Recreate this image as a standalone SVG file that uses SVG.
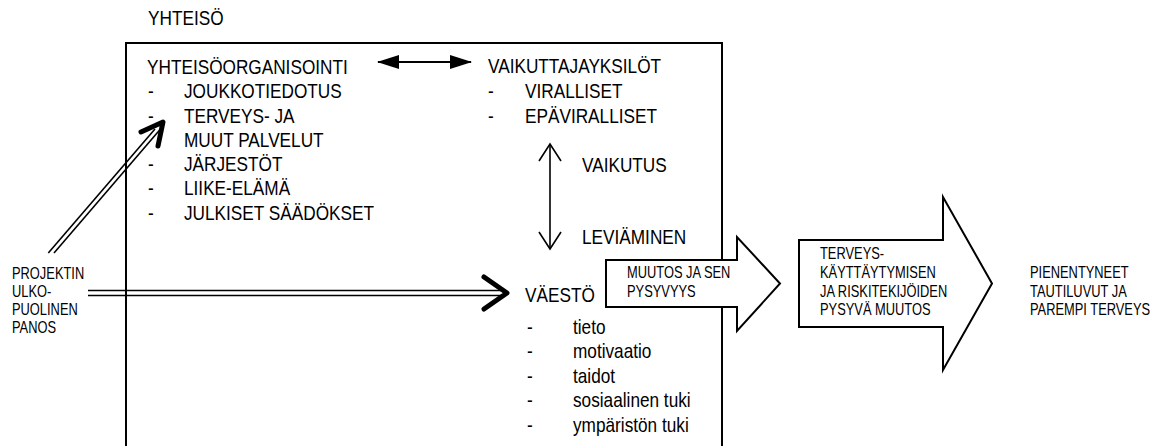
<svg xmlns="http://www.w3.org/2000/svg" width="1161" height="446" viewBox="0 0 1161 446">
<style>
  text { font-family: 'Liberation Sans', Arial, sans-serif; fill: #000; }
  .big { font-size: 21px; }
  .small { font-size: 15.7px; }
  .frame { fill: none; stroke: #000; stroke-width: 2; }
  .bigarrow { fill: #fff; stroke: #000; stroke-width: 2; stroke-linejoin: miter; }
  .thin { fill: none; stroke: #000; stroke-width: 1.6; }
  .dbl { fill: none; stroke: #000; stroke-width: 1.6; }
  .chev { fill: none; stroke: #000; stroke-width: 5; stroke-linecap: round; stroke-linejoin: round; }
</style>
<defs>
  <marker id="solidHead" viewBox="0 0 22 14" refX="21" refY="7" markerWidth="22" markerHeight="14" markerUnits="userSpaceOnUse" orient="auto-start-reverse">
    <path d="M0,0 L22,7 L0,14 Z" fill="#000"/>
  </marker>
</defs>
<rect width="1161" height="446" fill="#fff"/>

<g id="yhteiso">
  <text class="big" transform="translate(148,25) scale(0.82,1)">YHTEISÖ</text>
  <path class="frame" d="M126,446 L126,43 L722,43 L722,446"/>
</g>

<g id="yhteisoorganisointi">
  <text class="big" transform="translate(147,74) scale(0.82,1)">YHTEISÖORGANISOINTI</text>
  <text class="big" transform="translate(148,98) scale(0.82,1)">-</text><text class="big" transform="translate(184,98) scale(0.82,1)">JOUKKOTIEDOTUS</text>
  <text class="big" transform="translate(148,123) scale(0.82,1)">-</text><text class="big" transform="translate(184,123) scale(0.82,1)">TERVEYS- JA</text>
  <text class="big" transform="translate(184,147) scale(0.82,1)">MUUT PALVELUT</text>
  <text class="big" transform="translate(148,171) scale(0.82,1)">-</text><text class="big" transform="translate(184,171) scale(0.82,1)">JÄRJESTÖT</text>
  <text class="big" transform="translate(148,195) scale(0.82,1)">-</text><text class="big" transform="translate(184,195) scale(0.82,1)">LIIKE-ELÄMÄ</text>
  <text class="big" transform="translate(148,220) scale(0.82,1)">-</text><text class="big" transform="translate(184,220) scale(0.82,1)">JULKISET SÄÄDÖKSET</text>
</g>

<g id="vaikuttajayksilot">
  <text class="big" transform="translate(488,73) scale(0.82,1)">VAIKUTTAJAYKSILÖT</text>
  <text class="big" transform="translate(488,98) scale(0.82,1)">-</text><text class="big" transform="translate(525,98) scale(0.82,1)">VIRALLISET</text>
  <text class="big" transform="translate(488,123) scale(0.82,1)">-</text><text class="big" transform="translate(525,123) scale(0.82,1)">EPÄVIRALLISET</text>
</g>

<g id="vaikutus-label">
  <text class="big" transform="translate(582,172) scale(0.82,1)">VAIKUTUS</text>
  <text class="big" transform="translate(582,244) scale(0.82,1)">LEVIÄMINEN</text>
</g>

<g id="vaesto">
  <text class="big" transform="translate(525,302) scale(0.82,1)">VÄESTÖ</text>
  <text class="big" transform="translate(527,334) scale(0.82,1)">-</text><text class="big" transform="translate(573,334) scale(0.82,1)">tieto</text>
  <text class="big" transform="translate(527,358) scale(0.82,1)">-</text><text class="big" transform="translate(573,358) scale(0.82,1)">motivaatio</text>
  <text class="big" transform="translate(527,383) scale(0.82,1)">-</text><text class="big" transform="translate(573,383) scale(0.82,1)">taidot</text>
  <text class="big" transform="translate(527,407) scale(0.82,1)">-</text><text class="big" transform="translate(573,407) scale(0.82,1)">sosiaalinen tuki</text>
  <text class="big" transform="translate(527,432) scale(0.82,1)">-</text><text class="big" transform="translate(573,432) scale(0.82,1)">ympäristön tuki</text>
</g>

<g id="projektin-panos">
  <text class="small" transform="translate(12,279) scale(0.82,1)">PROJEKTIN</text>
  <text class="small" transform="translate(12,297) scale(0.82,1)">ULKO-</text>
  <text class="small" transform="translate(12,315) scale(0.82,1)">PUOLINEN</text>
  <text class="small" transform="translate(12,333) scale(0.82,1)">PANOS</text>
</g>

<g id="muutos">
  <polygon class="bigarrow" points="606,260 737,260 737,237 780,283.5 737,331 737,307 606,307"/>
  <text class="small" transform="translate(627,278) scale(0.82,1)">MUUTOS JA SEN</text>
  <text class="small" transform="translate(627,297) scale(0.82,1)">PYSYVYYS</text>
</g>

<g id="terveyskayttaytyminen">
  <polygon class="bigarrow" points="799,240 943,240 943,197 992,283.5 943,370 943,327 799,327"/>
  <text class="small" transform="translate(820,259) scale(0.82,1)">TERVEYS-</text>
  <text class="small" transform="translate(820,278) scale(0.82,1)">KÄYTTÄYTYMISEN</text>
  <text class="small" transform="translate(820,297) scale(0.82,1)">JA RISKITEKIJÖIDEN</text>
  <text class="small" transform="translate(820,315) scale(0.82,1)">PYSYVÄ MUUTOS</text>
</g>

<g id="tulos">
  <text class="small" transform="translate(1030,278) scale(0.82,1)">PIENENTYNEET</text>
  <text class="small" transform="translate(1030,297) scale(0.82,1)">TAUTILUVUT JA</text>
  <text class="small" transform="translate(1030,315) scale(0.82,1)">PAREMPI TERVEYS</text>
</g>

<g id="connectors">
  <line x1="378" y1="62" x2="471" y2="62" stroke="#000" stroke-width="2" marker-start="url(#solidHead)" marker-end="url(#solidHead)"/>
  <line x1="550" y1="144" x2="550" y2="249" class="thin"/>
  <path class="thin" d="M539,161 L550,144 L561,161"/>
  <path class="thin" d="M539,232 L550,249 L561,232"/>
  <line class="dbl" x1="88" y1="290.5" x2="502" y2="290.5"/>
  <line class="dbl" x1="88" y1="295.5" x2="502" y2="295.5"/>
  <path class="chev" d="M484,277 L507,293 L484,309"/>
  <line class="dbl" x1="48.3" y1="253" x2="155" y2="129"/>
  <line class="dbl" x1="54" y1="253" x2="160.5" y2="129"/>
  <path class="chev" d="M141,132 L163,122 L158,146"/>
</g>
</svg>
